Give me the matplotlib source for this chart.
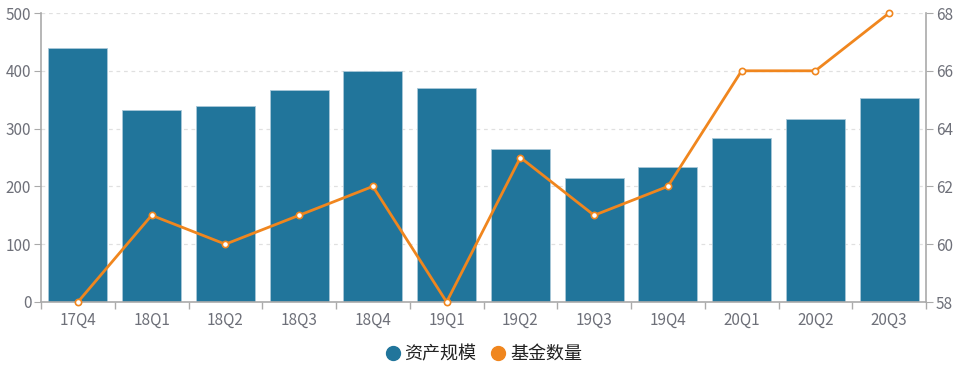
import matplotlib
matplotlib.use("Agg")
import matplotlib.pyplot as plt
from matplotlib.lines import Line2D
import numpy as np

plt.rcParams['font.family'] = ['Noto Sans CJK SC', 'DejaVu Sans']

categories = ['17Q4', '18Q1', '18Q2', '18Q3', '18Q4', '19Q1', '19Q2', '19Q3', '19Q4', '20Q1', '20Q2', '20Q3']
asset_scale = [440, 332, 339, 366, 400, 370, 265, 215, 234, 284, 316, 353]
fund_count = [58, 61, 60, 61, 62, 58, 63, 61, 62, 66, 66, 68]
left_ticks = [0, 100, 200, 300, 400, 500]
right_ticks = [58, 60, 62, 64, 66, 68]

bar_color = '#21759b'
line_color = '#f0861e'
axis_color = '#aaaaaa'
text_color = '#6e7079'

fig = plt.figure(figsize=(9.63, 3.66), dpi=100)
ax = fig.add_axes([41/963, 1-302/366, (926-41)/963, (302-13)/366])
x = np.arange(len(categories))
ax.bar(x, asset_scale, width=0.8, color=bar_color, edgecolor='#a9c8d8', linewidth=0.6, zorder=2)
ax.set_xlim(-0.5, len(categories)-0.5)
ax.set_ylim(0, 500)
ax.set_yticks(left_ticks)
ax.yaxis.grid(True, linestyle=(0, (3, 3)), color='#e0e0e0', linewidth=0.9, zorder=0)
ax.set_xticks(x)
ax.set_xticklabels(categories)
ax.set_xticks(np.arange(-0.5, len(categories), 1), minor=True)
ax.tick_params(axis='x', which='major', length=0, colors=text_color, labelsize=11, pad=7)
ax.tick_params(axis='x', which='minor', length=5, color=axis_color, width=1)
ax.tick_params(axis='y', length=5, color=axis_color, labelcolor=text_color, labelsize=11, pad=2)
for s in ['top', 'right']:
    ax.spines[s].set_visible(False)
ax.spines['left'].set_color(axis_color)
ax.spines['bottom'].set_color(axis_color)
ax.spines['left'].set_linewidth(1.2)
ax.spines['bottom'].set_linewidth(1.2)

ax2 = ax.twinx()
ax2.plot(x, fund_count, color=line_color, linewidth=2, marker='o', markersize=4.5,
         markerfacecolor='white', markeredgecolor=line_color, markeredgewidth=1.2, zorder=3, clip_on=False)
ax2.set_ylim(58, 68)
ax2.set_yticks(right_ticks)
ax2.tick_params(axis='y', length=5, color=axis_color, labelcolor=text_color, labelsize=11, pad=2)
for s in ['top', 'left', 'bottom']:
    ax2.spines[s].set_visible(False)
ax2.spines['right'].set_color(axis_color)
ax2.spines['right'].set_linewidth(1.2)

handles = [Line2D([], [], marker='o', linestyle='none', markersize=10, color=bar_color),
           Line2D([], [], marker='o', linestyle='none', markersize=10, color=line_color)]
leg = fig.legend(handles, ['资产规模', '基金数量'], loc='center', bbox_to_anchor=(482/963, 1-354/366),
                 ncol=2, frameon=False, fontsize=13, handletextpad=0.05, columnspacing=0.6, handlelength=1.2)
for t in leg.get_texts():
    t.set_color('#222222')

fig.savefig('out.png', dpi=100)
